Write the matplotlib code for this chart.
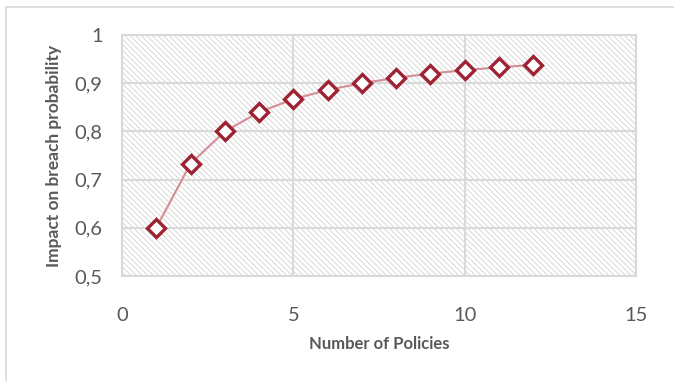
import matplotlib.pyplot as plt
from matplotlib.patches import Rectangle
from matplotlib.ticker import FuncFormatter

# policies vs. impact on breach probability
n_policies = [1, 2, 3, 4, 5, 6, 7, 8, 9, 10, 11, 12]
impact = [0.6, 0.733, 0.8, 0.84, 0.867, 0.886, 0.9, 0.911, 0.92, 0.927, 0.933, 0.938]

x_ticks = [0, 5, 10, 15]
y_ticks = [0.5, 0.6, 0.7, 0.8, 0.9, 1.0]

grey = '#d9d9d9'
txt = '#595959'
plt.rcParams['font.family'] = ['Lato', 'DejaVu Sans']
plt.rcParams['hatch.linewidth'] = 0.6
plt.rcParams['hatch.color'] = '#d2d2d2'

fig = plt.figure(figsize=(6.74, 3.81), dpi=100)
# chart frame
fig.patches.append(Rectangle((6/674, -0.1), 1.2, 1 - 7/381 + 0.1, transform=fig.transFigure,
                             fill=False, edgecolor=grey, linewidth=1.2))
ax = fig.add_axes([122/674, 1 - 276/381, (636 - 122)/674, (276 - 35)/381])

# hatched plot area
ax.add_patch(Rectangle((0, 0), 1, 1, transform=ax.transAxes, facecolor='white',
                       edgecolor='#d2d2d2', hatch='\\' * 6, linewidth=0, zorder=0))

ax.plot(n_policies, impact, color='#d38d94', linewidth=1.5, zorder=3)
ax.plot(n_policies, impact, linestyle='none', marker='D', markersize=9,
        markerfacecolor='white', markeredgecolor='#9e2232', markeredgewidth=2.4, zorder=4)

ax.set_xlim(0, 15)
ax.set_ylim(0.5, 1.0)
ax.set_xticks(x_ticks)
ax.set_yticks(y_ticks)
fmt = FuncFormatter(lambda v, p: ('%g' % v).replace('.', ','))
ax.xaxis.set_major_formatter(fmt)
ax.yaxis.set_major_formatter(fmt)
ax.tick_params(length=0, labelsize=14.5, labelcolor=txt)
ax.tick_params(axis='x', pad=22)
ax.tick_params(axis='y', pad=14)
ax.grid(True, color=grey, linewidth=1.5)
ax.set_axisbelow(True)
for s in ax.spines.values():
    s.set_color(grey)
    s.set_linewidth(1.5)

ax.set_xlabel('Number of Policies', fontsize=12, fontweight='bold', color=txt, labelpad=9)
ax.set_ylabel('Impact on breach probability', fontsize=12.5, fontweight='bold', color=txt, labelpad=9)

fig.savefig('out.png', dpi=100)
